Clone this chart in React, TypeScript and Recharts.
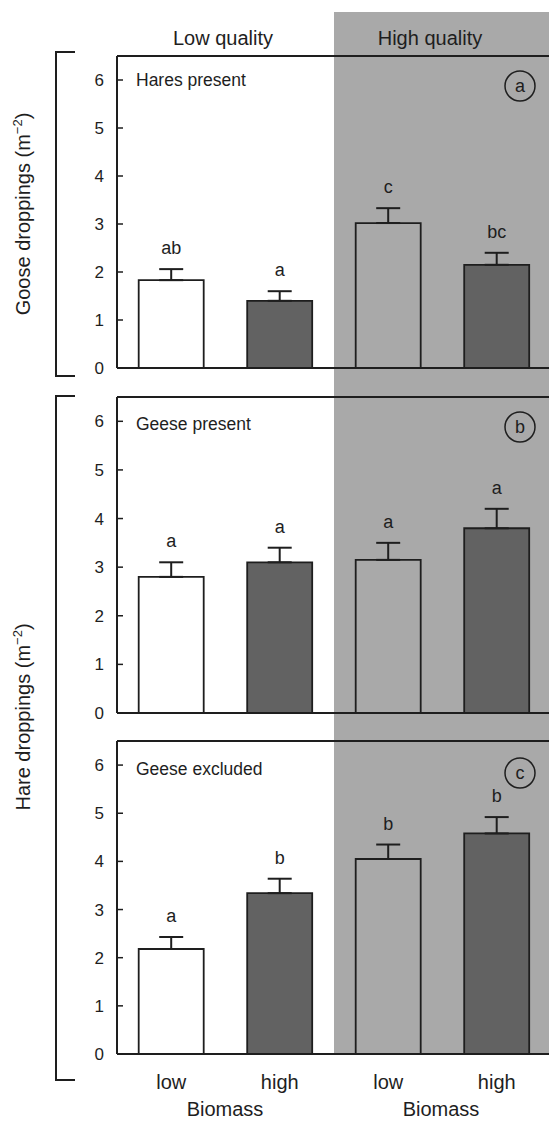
import React from 'react'
import {
  Bar,
  BarChart,
  Cell,
  ErrorBar,
  LabelList,
  ReferenceLine,
  XAxis,
  YAxis,
} from 'recharts'

// four treatment bars per panel: quality x biomass
const categories = ['lq-low', 'lq-high', 'hq-low', 'hq-high']
const biomassLabels = ['low', 'high', 'low', 'high']
const barColors = ['#ffffff', '#626262', '#a9a9a9', '#626262']
const yTicks = [0, 1, 2, 3, 4, 5, 6]

// (a) goose droppings, hares present
const gooseHaresPresent = [1.83, 1.4, 3.02, 2.15]
const gooseHaresPresentSE = [0.23, 0.2, 0.31, 0.25]
const gooseHaresPresentLetters = ['ab', 'a', 'c', 'bc']

// (b) hare droppings, geese present
const hareGeesePresent = [2.8, 3.1, 3.15, 3.8]
const hareGeesePresentSE = [0.3, 0.3, 0.35, 0.4]
const hareGeesePresentLetters = ['a', 'a', 'a', 'a']

// (c) hare droppings, geese excluded
const hareGeeseExcluded = [2.18, 3.34, 4.05, 4.58]
const hareGeeseExcludedSE = [0.25, 0.3, 0.3, 0.34]
const hareGeeseExcludedLetters = ['a', 'b', 'b', 'b']

const FONT = '"Liberation Sans", Arial, Helvetica, sans-serif'
const INK = '#1e1e1e'

const makeRows = (values: number[], se: number[], letters: string[]) =>
  categories.map((cat, i) => ({
    cat,
    value: values[i],
    err: [0, se[i]],
    se: se[i],
    letter: letters[i],
  }))

const YTick = (props: any) => {
  const { x, y, payload } = props
  return (
    <g>
      <line x1={x} x2={x + 6} y1={y} y2={y} stroke={INK} strokeWidth={1.5} />
      <text
        x={x - 13}
        y={y}
        dy={6}
        textAnchor="end"
        fontSize={17}
        fontFamily={FONT}
        fill={INK}
      >
        {payload.value}
      </text>
    </g>
  )
}

const XTick = (props: any) => {
  const { x, y, index } = props
  return (
    <text
      x={x}
      y={y + 35}
      textAnchor="middle"
      fontSize={20}
      fontFamily={FONT}
      fill={INK}
    >
      {biomassLabels[index]}
    </text>
  )
}

function Panel({
  rows,
  top,
  plotHeight,
  showX,
}: {
  rows: ReturnType<typeof makeRows>
  top: number
  plotHeight: number
  showX?: boolean
}) {
  const xHeight = showX ? 60 : 14
  const letterLabel = (p: any) => {
    const { x, y, width, height, index } = p
    const r = rows[index]
    const perUnit = height / r.value
    const capY = y - r.se * perUnit
    return (
      <text
        x={x + width / 2}
        y={capY - 15}
        textAnchor="middle"
        fontSize={18}
        fontFamily={FONT}
        fill={INK}
      >
        {r.letter}
      </text>
    )
  }
  return (
    <div style={{ position: 'absolute', left: 0, top: top - 2 }}>
      <BarChart
        width={553}
        height={2 + plotHeight + xHeight}
        data={rows}
        margin={{ top: 2, right: 2, bottom: 0, left: 0 }}
        barCategoryGap="20%"
      >
        <XAxis
          dataKey="cat"
          height={xHeight}
          tickLine={false}
          tickSize={0}
          tickMargin={0}
          tick={showX ? <XTick /> : false}
          axisLine={{ stroke: INK, strokeWidth: 2 }}
        />
        <YAxis
          width={117}
          domain={[0, 6.5]}
          ticks={yTicks}
          interval={0}
          allowDataOverflow
          tickLine={false}
          tickSize={0}
          tickMargin={0}
          tick={<YTick />}
          axisLine={{ stroke: INK, strokeWidth: 2 }}
        />
        <ReferenceLine y={6.5} stroke={INK} strokeWidth={2} ifOverflow="visible" />
        <Bar
          dataKey="value"
          stroke={INK}
          strokeWidth={1.8}
          isAnimationActive={false}
        >
          {rows.map((r, i) => (
            <Cell key={r.cat} fill={barColors[i]} />
          ))}
          <ErrorBar
            dataKey="err"
            width={12}
            stroke={INK}
            strokeWidth={2}
            direction="y"
          />
          <LabelList dataKey="letter" content={letterLabel} />
        </Bar>
      </BarChart>
    </div>
  )
}

export default function App() {
  const text = { fontFamily: FONT, fill: INK }
  return (
    <div
      style={{
        position: 'absolute',
        left: 0,
        top: 0,
        width: 549,
        height: 1121,
        overflow: 'hidden',
        background: '#ffffff',
      }}
    >
      <div
        style={{
          position: 'absolute',
          left: 334,
          top: 12,
          width: 215,
          height: 1042,
          background: '#a9a9a9',
        }}
      />
      <Panel
        rows={makeRows(gooseHaresPresent, gooseHaresPresentSE, gooseHaresPresentLetters)}
        top={56}
        plotHeight={312}
      />
      <Panel
        rows={makeRows(hareGeesePresent, hareGeesePresentSE, hareGeesePresentLetters)}
        top={397}
        plotHeight={316}
      />
      <Panel
        rows={makeRows(hareGeeseExcluded, hareGeeseExcludedSE, hareGeeseExcludedLetters)}
        top={741}
        plotHeight={313}
        showX
      />
      <svg
        width={549}
        height={1121}
        style={{ position: 'absolute', left: 0, top: 0, pointerEvents: 'none' }}
      >
        <text x={223} y={45} textAnchor="middle" fontSize={20} {...text}>
          Low quality
        </text>
        <text x={430} y={45} textAnchor="middle" fontSize={20} {...text}>
          High quality
        </text>

        <text x={136} y={86} fontSize={17.5} {...text}>Hares present</text>
        <text x={136} y={430} fontSize={17.5} {...text}>Geese present</text>
        <text x={136} y={775} fontSize={17.5} {...text}>Geese excluded</text>

        {[
          ['a', 86],
          ['b', 427],
          ['c', 773],
        ].map(([t, cy]) => (
          <g key={t as string}>
            <circle cx={520} cy={cy as number} r={15} fill="none" stroke={INK} strokeWidth={1.5} />
            <text x={520} y={(cy as number) + 6} textAnchor="middle" fontSize={18} {...text}>
              {t}
            </text>
          </g>
        ))}

        <path d="M75 52 H56 V376 H75" fill="none" stroke={INK} strokeWidth={2} />
        <path d="M75 396 H56 V1080 H75" fill="none" stroke={INK} strokeWidth={2} />

        <text
          transform="translate(30 214) rotate(-90)"
          textAnchor="middle"
          fontSize={20}
          {...text}
        >
          Goose droppings (m
          <tspan fontSize={13} dy={-8}>−2</tspan>
          <tspan dy={8}>)</tspan>
        </text>
        <text
          transform="translate(30 717) rotate(-90)"
          textAnchor="middle"
          fontSize={20}
          {...text}
        >
          Hare droppings (m
          <tspan fontSize={13} dy={-8}>−2</tspan>
          <tspan dy={8}>)</tspan>
        </text>

        <text x={225} y={1116} textAnchor="middle" fontSize={20} {...text}>
          Biomass
        </text>
        <text x={441} y={1116} textAnchor="middle" fontSize={20} {...text}>
          Biomass
        </text>
      </svg>
    </div>
  )
}
